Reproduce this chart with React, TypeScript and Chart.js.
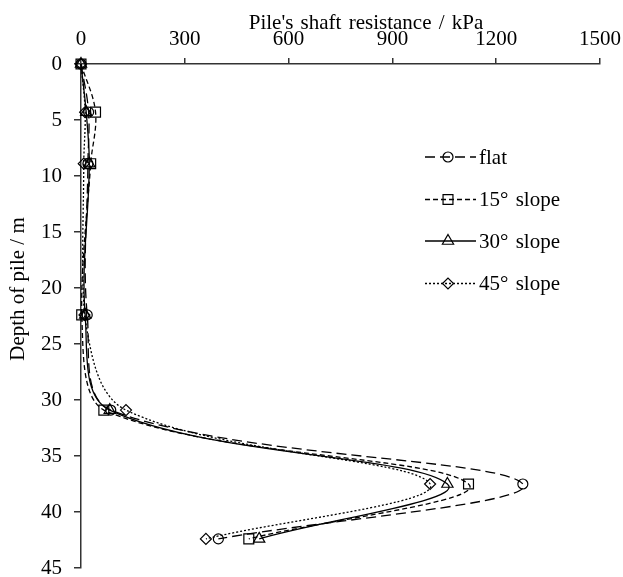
import React, { useEffect, useRef } from 'react';
import { Chart, registerables } from 'chart.js';

Chart.register(...registerables);

// ---- Data ----
const depths = [0, 4.3, 8.9, 22.4, 30.9, 37.5, 42.4];
const flatValues = [0, 22, 20, 18, 86, 1277, 397];
const slope15Values = [0, 42, 28, 2, 66, 1120, 485];
const slope30Values = [0, 15, 24, 12, 83, 1059, 515];
const slope45Values = [0, 12, 8, 10, 130, 1009, 361];

const seriesLabels = ['flat', '15° slope', '30° slope', '45° slope'];
const xTickValues = [0, 300, 600, 900, 1200, 1500];
const yTickValues = [0, 5, 10, 15, 20, 25, 30, 35, 40, 45];

const xTitle = "Pile's shaft resistance / kPa";
const yTitle = 'Depth of pile / m';

const FONT_FAMILY = '"Liberation Serif", "Times New Roman", serif';
const FONT_SIZE = 21;

const seriesStyles = [
  { dash: [10, 5], point: 'circle', radius: 5 },
  { dash: [5, 3], point: 'rect', radius: 7 },
  { dash: [], point: 'triangle', radius: 6.5 },
  { dash: [2, 2], point: 'rectRot', radius: 5.5 },
];

const allValues = [flatValues, slope15Values, slope30Values, slope45Values];

function drawMarker(ctx: CanvasRenderingContext2D, style: string, r: number, x: number, y: number) {
  if (style === 'circle') {
    ctx.arc(x, y, r, 0, Math.PI * 2);
  } else if (style === 'rect') {
    const s = Math.SQRT1_2 * r;
    ctx.rect(x - s, y - s, 2 * s, 2 * s);
  } else if (style === 'triangle') {
    ctx.moveTo(x, y - r);
    ctx.lineTo(x + r * Math.sin((Math.PI * 2) / 3), y - r * Math.cos((Math.PI * 2) / 3));
    ctx.lineTo(x + r * Math.sin((Math.PI * 4) / 3), y - r * Math.cos((Math.PI * 4) / 3));
    ctx.closePath();
  } else {
    ctx.moveTo(x - r, y);
    ctx.lineTo(x, y - r);
    ctx.lineTo(x + r, y);
    ctx.lineTo(x, y + r);
    ctx.closePath();
  }
}

const overlayPlugin = {
  id: 'overlay',
  afterDraw(chart: any) {
    const ctx: CanvasRenderingContext2D = chart.ctx;
    ctx.save();
    ctx.fillStyle = '#000';
    ctx.font = `${FONT_SIZE}px ${FONT_FAMILY}`;
    // x title (top)
    (ctx as any).wordSpacing = '2px';
    ctx.textAlign = 'center';
    ctx.textBaseline = 'alphabetic';
    ctx.fillText(xTitle, 366, 28.5);
    // y title (rotated)
    (ctx as any).wordSpacing = '0px';
    ctx.save();
    ctx.translate(23.5, 289);
    ctx.rotate(-Math.PI / 2);
    ctx.fillText(yTitle, 0, 0);
    ctx.restore();

    // legend
    const rowsY = [157, 199.5, 241, 283.5];
    const lineX0 = 425;
    const lineX1 = 476;
    const markerX = 448;
    chart.data.datasets.forEach((ds: any, i: number) => {
      const y = rowsY[i];
      ctx.save();
      ctx.strokeStyle = '#000';
      ctx.lineWidth = 1.3;
      ctx.setLineDash(seriesStyles[i].dash);
      ctx.beginPath();
      ctx.moveTo(lineX0, y);
      ctx.lineTo(lineX1, y);
      ctx.stroke();
      ctx.setLineDash([]);
      ctx.lineWidth = 1.2;
      ctx.beginPath();
      drawMarker(ctx, seriesStyles[i].point, seriesStyles[i].radius, markerX, y);
      ctx.stroke();
      ctx.restore();
      ctx.textAlign = 'left';
      ctx.textBaseline = 'alphabetic';
      (ctx as any).wordSpacing = '2px';
      ctx.fillText(ds.label, 479, y + 6.5);
    });
    ctx.restore();
  },
};

export default function App() {
  const canvasRef = useRef<HTMLCanvasElement | null>(null);

  useEffect(() => {
    if (!canvasRef.current) return;
    const tickFont = { family: FONT_FAMILY, size: FONT_SIZE };
    const datasets = allValues.map((vals, i) => ({
      label: seriesLabels[i],
      data: depths.map((d, k) => ({ x: vals[k], y: d })),
      showLine: true,
      fill: false,
      tension: 0.35,
      borderColor: '#000',
      borderWidth: 1.3,
      borderDash: seriesStyles[i].dash,
      pointStyle: seriesStyles[i].point,
      pointRadius: seriesStyles[i].radius,
      pointBackgroundColor: 'rgba(0,0,0,0)',
      pointBorderColor: '#000',
      pointBorderWidth: 1.2,
      clip: false,
    }));

    const chart = new Chart(canvasRef.current, {
      type: 'scatter',
      data: { datasets },
      plugins: [overlayPlugin],
      options: {
        animation: false,
        responsive: true,
        maintainAspectRatio: false,
        layout: { padding: { left: 0, right: 23, top: 0, bottom: 9 } },
        plugins: { legend: { display: false }, tooltip: { enabled: false } },
        scales: {
          x: {
            type: 'linear',
            position: 'top',
            min: 0,
            max: 1500,
            afterBuildTicks: (s: any) => {
              s.ticks = xTickValues.map((v) => ({ value: v }));
            },
            ticks: {
              font: tickFont,
              color: '#000',
              padding: 6,
              maxRotation: 0,
              autoSkip: false,
              callback: (v: any) => String(v),
            },
            grid: { drawOnChartArea: false, drawTicks: true, tickLength: 6, color: '#333', lineWidth: 1.5 },
            border: { display: true, color: '#333', width: 1.5 },
            afterFit: (s: any) => {
              s.height = 64;
              s.paddingLeft = 0;
              s.paddingRight = 0;
            },
          },
          y: {
            type: 'linear',
            reverse: true,
            min: 0,
            max: 45,
            afterBuildTicks: (s: any) => {
              s.ticks = yTickValues.map((v) => ({ value: v }));
            },
            ticks: {
              font: tickFont,
              color: '#000',
              padding: 12,
              autoSkip: false,
              callback: (v: any) => String(v),
            },
            grid: { drawOnChartArea: false, drawTicks: true, tickLength: 7, color: '#333', lineWidth: 1.5 },
            border: { display: true, color: '#333', width: 1.5 },
            afterFit: (s: any) => {
              s.width = 81;
              s.paddingTop = 0;
              s.paddingBottom = 0;
            },
          },
        },
      } as any,
    });
    return () => chart.destroy();
  }, []);

  return (
    <div style={{ position: 'absolute', left: 0, top: 0, width: 623, height: 577, background: '#fff' }}>
      <canvas ref={canvasRef} />
    </div>
  );
}
